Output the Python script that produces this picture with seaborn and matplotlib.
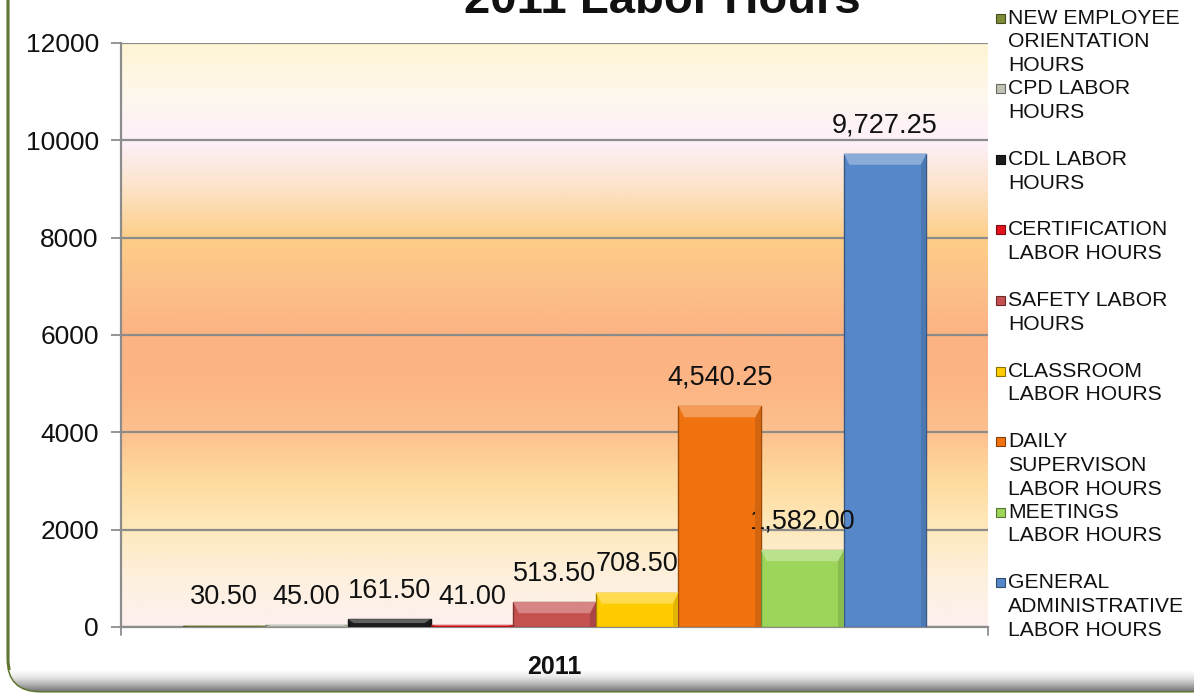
import numpy as np
import pandas as pd
import matplotlib
matplotlib.use("Agg")
import matplotlib.pyplot as plt
from matplotlib.colors import LinearSegmentedColormap, to_rgb
from matplotlib.patches import FancyBboxPatch, Rectangle, Polygon
import seaborn as sns

# ---- data -------------------------------------------------------------
year = "2011"
categories = [
    "NEW EMPLOYEE\nORIENTATION\nHOURS",
    "CPD LABOR\nHOURS",
    "CDL LABOR\nHOURS",
    "CERTIFICATION\nLABOR HOURS",
    "SAFETY LABOR\nHOURS",
    "CLASSROOM\nLABOR HOURS",
    "DAILY\nSUPERVISON\nLABOR HOURS",
    "MEETINGS\nLABOR HOURS",
    "GENERAL\nADMINISTRATIVE\nLABOR HOURS",
]
hours = [30.50, 45.00, 161.50, 41.00, 513.50, 708.50, 4540.25, 1582.00, 9727.25]
colors = ["#7E8C3A", "#BFC3B4", "#1C1C1C", "#E3121B", "#C4504F",
          "#FFCC00", "#F07310", "#9DD55A", "#5688C9"]
yticks = [0, 2000, 4000, 6000, 8000, 10000, 12000]
title = "2011 Labor Hours"

df = pd.DataFrame({"year": [year] * len(categories),
                   "category": categories,
                   "hours": hours})

# ---- figure -------------------------------------------------------------
sns.set_theme(style="white")
plt.rcParams["font.family"] = ["Liberation Sans", "DejaVu Sans"]

W, H = 1194, 694
fig = plt.figure(figsize=(W / 100, H / 100), dpi=100)

# rounded frame with soft bottom shadow
bg = fig.add_axes([0, 0, 1, 1], zorder=-5)
bg.set_xlim(0, W)
bg.set_ylim(0, H)
bg.axis("off")
frame = FancyBboxPatch((8, 3), W + 60, H + 60,
                       boxstyle="round,pad=0,rounding_size=32",
                       facecolor="white", edgecolor="#5E7630", linewidth=2.2)
bg.add_patch(frame)
shade = np.linspace(0, 1, 64).reshape(-1, 1)
shade_cmap = LinearSegmentedColormap.from_list(
    "shade", ["#7A7A7A", "#B5B5B5", "#E8E8E8", "#FFFFFF"])
im = bg.imshow(shade, cmap=shade_cmap, extent=(8, W + 60, 3, 24),
               aspect="auto", origin="lower", zorder=1)
im.set_clip_path(frame)

# plot area
ax = fig.add_axes([121 / W, 1 - 627 / H, (988 - 121) / W, (627 - 43) / H])

# warm vertical gradient behind the bars
stops = [(0.0, "#FDF0EE"), (1000 / 12000, "#FEF0DE"), (2000 / 12000, "#FFE9BC"),
         (3000 / 12000, "#FEDB9E"), (4000 / 12000, "#FDC08E"),
         (5000 / 12000, "#FCB585"), (6000 / 12000, "#FCB383"),
         (7000 / 12000, "#FCC08A"), (8000 / 12000, "#FECE88"),
         (9000 / 12000, "#FCE2C6"), (10000 / 12000, "#FDF0FA"),
         (11000 / 12000, "#FEF8EC"), (1.0, "#FFF5D3")]
bg_cmap = LinearSegmentedColormap.from_list("warm", stops)
grad = np.linspace(0, 1, 400).reshape(-1, 1)
ax.imshow(grad, cmap=bg_cmap, extent=(-0.5, 0.5, 0, 12000),
          aspect="auto", origin="lower", zorder=0)

sns.barplot(data=df, x="year", y="hours", hue="category",
            hue_order=categories, palette=colors, width=0.858,
            dodge=True, gap=0, legend=False, ax=ax, zorder=3,
            saturation=1)

def darker(c, f=0.6):
    r, g, b = to_rgb(c)
    return (r * f, g * f, b * f)

def lighter(c, f=0.35):
    r, g, b = to_rgb(c)
    return (r + (1 - r) * f, g + (1 - g) * f, b + (1 - b) * f)

for cont, col, val in zip(ax.containers, colors, hours):
    for bar in cont:
        bar.set_edgecolor(darker(col, 0.65))
        bar.set_linewidth(1.0)
        # bevelled top and right edges
        x0, w = bar.get_x(), bar.get_width()
        h = bar.get_height()
        bev_y = min(h * 0.5, 230)
        bev_x = w * 0.07
        ax.add_patch(Polygon([(x0, h), (x0 + w, h), (x0 + w - bev_x, h - bev_y),
                              (x0 + bev_x, h - bev_y)], closed=True,
                             facecolor=lighter(col, 0.3), edgecolor="none",
                             zorder=3.5))
        ax.add_patch(Polygon([(x0 + w, h), (x0 + w, 0), (x0 + w - bev_x, 0),
                              (x0 + w - bev_x, h - bev_y)], closed=True,
                             facecolor=darker(col, 0.88), edgecolor="none",
                             zorder=3.4))
    ax.bar_label(cont, labels=[f"{val:,.2f}"], padding=11,
                 fontsize=19.5, color="#111111")

ax.set_xlim(-0.5, 0.5)
ax.set_ylim(0, 12000)
ax.set_yticks(yticks)
ax.set_yticklabels([str(t) for t in yticks], fontsize=19, color="#111111")
ax.yaxis.grid(True, color="#8C8C8C", linewidth=1.6, zorder=1)
ax.set_axisbelow(True)
ax.tick_params(axis="y", length=7, width=1.3, color="#8C8C8C", pad=9, left=True)
ax.tick_params(axis="x", length=0, pad=20)
ax.set_xticks([0])
ax.set_xticklabels([year], fontsize=18, fontweight="bold", color="#111111")
ax.set_xlabel("")
ax.set_ylabel("")
for side in ["top", "right"]:
    ax.spines[side].set_visible(False)
for side in ["left", "bottom"]:
    ax.spines[side].set_color("#8C8C8C")
    ax.spines[side].set_linewidth(1.6)
ax.set_facecolor("none")
# short downward ticks at both ends of the category axis
for xe in (-0.5, 0.5):
    ax.plot([xe, xe], [0, -160], color="#8C8C8C", lw=1.3, clip_on=False, zorder=2)

# title, partly running off the top edge
fig.text(662 / W, 1 - 13 / H, title, ha="center", va="baseline",
         fontsize=34, fontweight="bold", color="#111111")

# legend column on the right
y_first, entry_step, line_step = 18, 70.6, 23.8
for i, (lab, col) in enumerate(zip(categories, colors)):
    yc = y_first + i * entry_step
    bg.add_patch(Rectangle((996, H - yc - 4.5), 9, 9, facecolor=col,
                           edgecolor=darker(col, 0.55), linewidth=0.8, zorder=3))
    for j, line in enumerate(lab.split("\n")):
        bg.text(1008, H - (yc + j * line_step), line, ha="left", va="center",
                fontsize=15.2, color="#111111", zorder=3)

fig.savefig("out.png", dpi=100)
